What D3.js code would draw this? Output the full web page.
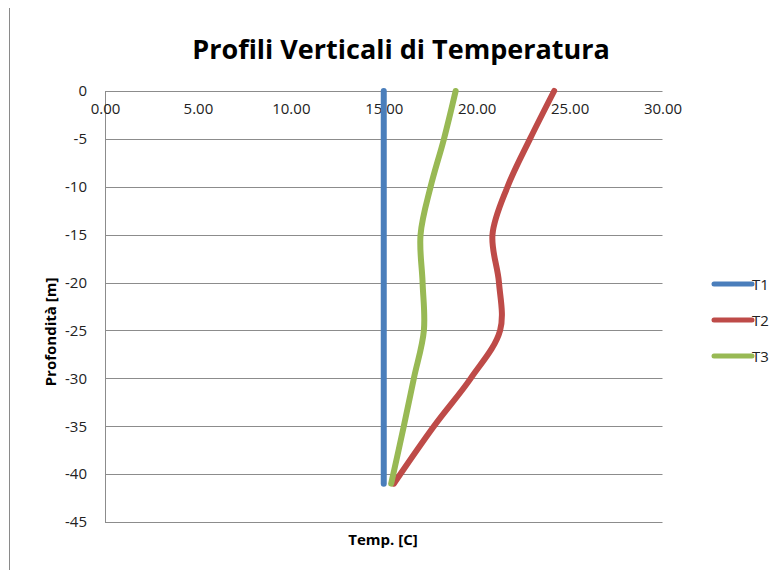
<!DOCTYPE html>
<html>
<head>
<meta charset="utf-8">
<script src="https://cdn.jsdelivr.net/npm/d3@7"></script>
<style>
  body { margin: 0; background: #fff; }
  svg text { font-family: "Open Sans", "Noto Sans", sans-serif; }
</style>
</head>
<body>
<svg id="chart" width="784" height="570"></svg>
<script>
// data (temperature in C, depth in m)
var depths = [0, -5, -10, -15, -20, -25, -30, -35, -41];
var t1 = [15, 15, 15, 15, 15, 15, 15, 15, 15];
var t2 = [24.17, 22.87, 21.66, 20.85, 21.2, 21.26, 19.68, 17.7, 15.54];
var t3 = [18.87, 18.24, 17.52, 16.98, 17.09, 17.16, 16.62, 16.08, 15.4];
var seriesNames = ["T1", "T2", "T3"];
var seriesColors = ["#4a7ebb", "#be4b48", "#98b954"];
var xTicks = [0, 5, 10, 15, 20, 25, 30];
var yTicks = [0, -5, -10, -15, -20, -25, -30, -35, -40, -45];

var svg = d3.select("#chart");

// chart border on the left
svg.append("line")
  .attr("x1", 9.5).attr("x2", 9.5)
  .attr("y1", 8).attr("y2", 570)
  .attr("stroke", "#8a8a8a");

var x = d3.scaleLinear().domain([0, 30]).range([105, 662.5]);
var y = d3.scaleLinear().domain([0, -45]).range([91, 522]);

// gridlines
svg.append("g")
  .selectAll("line")
  .data(yTicks)
  .enter().append("line")
  .attr("x1", x(0)).attr("x2", x(30))
  .attr("y1", function(d) { return Math.round(y(d)) + 0.5; })
  .attr("y2", function(d) { return Math.round(y(d)) + 0.5; })
  .attr("stroke", "#8c8c8c")
  .attr("stroke-width", 1);

// y axis line
svg.append("line")
  .attr("x1", x(0) + 0.5).attr("x2", x(0) + 0.5)
  .attr("y1", y(0)).attr("y2", y(-45))
  .attr("stroke", "#8c8c8c");

// y tick labels (plain hyphen, like the original)
var yAxis = svg.append("g")
  .attr("transform", "translate(" + x(0) + ",0)")
  .call(d3.axisLeft(y).tickValues(yTicks).tickSize(0).tickPadding(18)
    .tickFormat(function(d) { return String(d); }));
yAxis.select(".domain").remove();
yAxis.selectAll("text")
  .attr("font-size", 15)
  .attr("fill", "#222")
  .style("font-family", "'Open Sans', sans-serif");

// x tick labels, just under the 0 line
var xAxis = svg.append("g")
  .attr("transform", "translate(0," + y(0) + ")")
  .call(d3.axisBottom(x).tickValues(xTicks).tickSize(0).tickPadding(12).tickFormat(d3.format(".2f")));
xAxis.select(".domain").remove();
xAxis.selectAll("text")
  .attr("font-size", 15)
  .attr("fill", "#222")
  .style("font-family", "'Open Sans', sans-serif");

// series
var series = [t1, t2, t3];
var line = d3.line()
  .x(function(d) { return x(d[0]); })
  .y(function(d) { return y(d[1]); })
  .curve(d3.curveCatmullRom.alpha(0.5));

series.forEach(function(s, i) {
  var pts = s.map(function(v, j) { return [v, depths[j]]; });
  svg.append("path")
    .datum(pts)
    .attr("d", line)
    .attr("fill", "none")
    .attr("stroke", seriesColors[i])
    .attr("stroke-width", 6)
    .attr("stroke-linecap", "round")
    .attr("stroke-linejoin", "round");
});

// title
svg.append("text")
  .attr("x", 401).attr("y", 59)
  .attr("text-anchor", "middle")
  .attr("font-size", 27)
  .attr("font-weight", "bold")
  .attr("fill", "#000")
  .text("Profili Verticali di Temperatura");

// axis titles
svg.append("text")
  .attr("x", 383).attr("y", 545)
  .attr("text-anchor", "middle")
  .attr("font-size", 15)
  .attr("font-weight", "bold")
  .text("Temp. [C]");

svg.append("text")
  .attr("transform", "translate(56,332) rotate(-90)")
  .attr("text-anchor", "middle")
  .attr("font-size", 15)
  .attr("font-weight", "bold")
  .text("Profondità [m]");

// legend
var legend = svg.append("g")
  .selectAll("g")
  .data(seriesNames)
  .enter().append("g")
  .attr("transform", function(d, i) { return "translate(714," + (284 + i * 36) + ")"; });
legend.append("line")
  .attr("x1", 0).attr("x2", 38)
  .attr("stroke", function(d, i) { return seriesColors[i]; })
  .attr("stroke-width", 5)
  .attr("stroke-linecap", "round");
legend.append("text")
  .attr("x", 38).attr("y", 6)
  .attr("font-size", 15)
  .attr("fill", "#222")
  .text(function(d) { return d; });
</script>
</body>
</html>
